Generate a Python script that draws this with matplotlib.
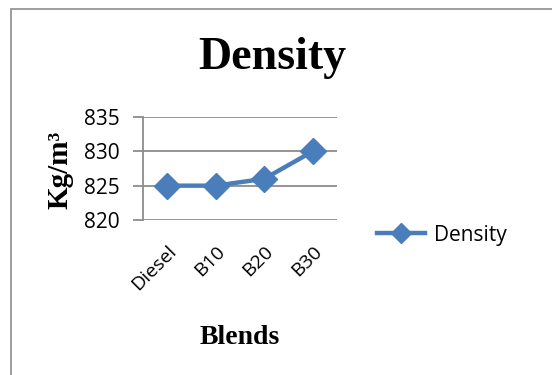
import matplotlib.pyplot as plt
from matplotlib.patches import Rectangle

blends = ["Diesel", "B10", "B20", "B30"]
density = [825, 825, 826, 830]
y_ticks = [820, 825, 830, 835]

W, H = 552, 375
fig = plt.figure(figsize=(W / 100, H / 100), dpi=100)

# outer chart frame (cut off at right and bottom)
fig.patches.append(Rectangle((11 / W, -0.05), 1.0, 1 - 9 / H + 0.05, transform=fig.transFigure,
                             fill=False, edgecolor="#8c8c8c", linewidth=1.2))

ax = fig.add_axes([143 / W, 1 - 220 / H, 194 / W, 103 / H])
x = range(len(blends))
ax.plot(x, density, color="#4a7ebb", linewidth=3.2, marker="D", markersize=13,
        markeredgecolor="#4a7ebb", label="Density", solid_joinstyle="round")

ax.set_xlim(-0.5, len(blends) - 0.5)
ax.set_ylim(820, 835)
ax.set_yticks(y_ticks)
ax.yaxis.grid(True, color="#8c8c8c", linewidth=1.3)
ax.set_axisbelow(True)
for s in ["top", "right", "bottom"]:
    ax.spines[s].set_visible(False)
ax.spines["left"].set_color("#8c8c8c")
ax.spines["left"].set_linewidth(1.3)
ax.tick_params(axis="y", length=7.5, width=1.3, color="#8c8c8c", labelsize=15, pad=9)
ax.tick_params(axis="x", length=0, labelsize=14, pad=16)
for lab in ax.get_yticklabels():
    lab.set_fontfamily("Open Sans")
ax.set_xticks(list(x))
ax.set_xticklabels(blends, rotation=45, ha="right", rotation_mode="anchor", family="Open Sans")

fig.text(272 / W, 1 - 58 / H, "Density", ha="center", va="center",
         family="Liberation Serif", weight="bold", fontsize=33)
fig.text(60 / W, 1 - 170 / H, "Kg/m³", ha="center", va="center", rotation=90,
         family="Liberation Serif", weight="bold", fontsize=21)
fig.text(240 / W, 1 - 337 / H, "Blends", ha="center", va="center",
         family="Liberation Serif", weight="bold", fontsize=20)

ax.legend(loc="center left", bbox_to_anchor=(369 / W, 1 - 235 / H), bbox_transform=fig.transFigure,
          frameon=False, handlelength=2.3, handletextpad=0.4, borderaxespad=0, markerscale=0.8,
          prop={"family": "Open Sans", "size": 15})

fig.savefig("out.png", dpi=100)
